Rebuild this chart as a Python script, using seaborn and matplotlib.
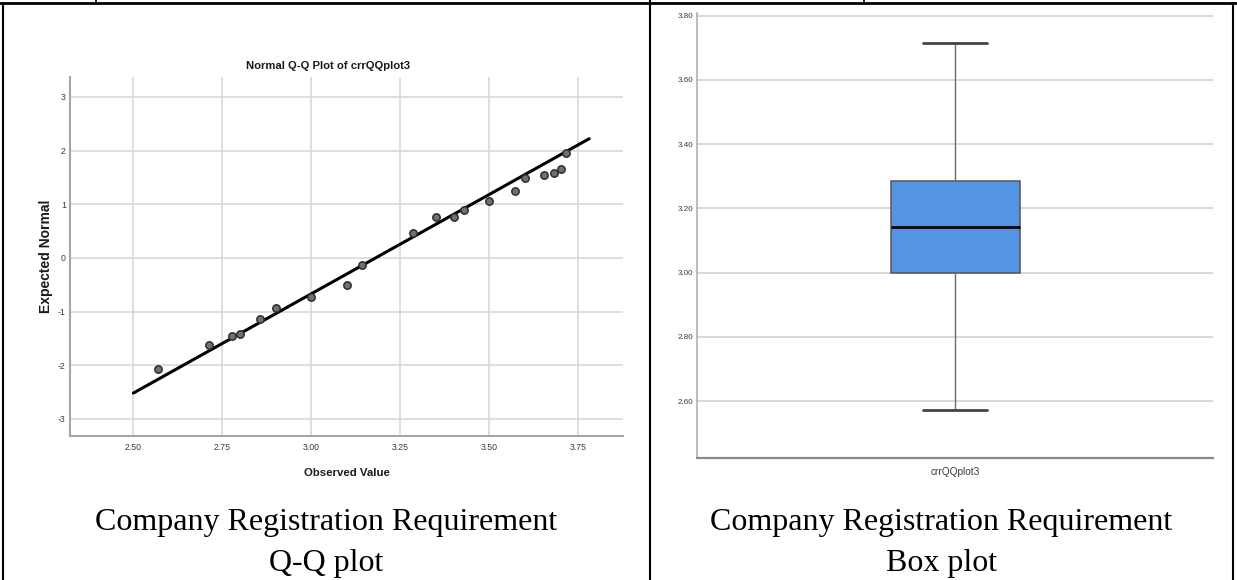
import numpy as np
import pandas as pd
import seaborn as sns
import matplotlib.pyplot as plt
from matplotlib.lines import Line2D

observed = [2.570, 2.713, 2.778, 2.800, 2.856, 2.900, 3.000, 3.101, 3.142, 3.285,
            3.350, 3.400, 3.429, 3.500, 3.572, 3.601, 3.652, 3.680, 3.700, 3.715]
expected = [-2.07, -1.62, -1.455, -1.42, -1.14, -0.93, -0.725, -0.51, -0.13, 0.46,
            0.76, 0.77, 0.90, 1.06, 1.25, 1.49, 1.54, 1.585, 1.65, 1.96]
# reference line ends
line_x = [2.50, 3.78]
line_y = [-2.52, 2.22]
qq_xticks = [2.50, 2.75, 3.00, 3.25, 3.50, 3.75]
qq_yticks = [-3, -2, -1, 0, 1, 2, 3]

# box plot five-number summary
box_label = "crrQQplot3"
box_low = 2.571
box_q1 = 3.000
box_median = 3.143
box_q3 = 3.286
box_high = 3.714
box_yticks = [2.60, 2.80, 3.00, 3.20, 3.40, 3.60, 3.80]

caption_top = "Company Registration Requirement"
caption_left = "Q-Q plot"
caption_right = "Box plot"

sns.set_style("white")
plt.rcParams["font.family"] = ["Liberation Sans", "DejaVu Sans"]
plt.rcParams["axes.unicode_minus"] = False

W, H = 1237, 580
fig = plt.figure(figsize=(W / 100, H / 100), dpi=100)


def px_rect(l, t, r, b):
    return [l / W, 1 - b / H, (r - l) / W, (b - t) / H]


def fig_line(x0, y0, x1, y1, lw):
    fig.add_artist(Line2D([x0 / W, x1 / W], [1 - y0 / H, 1 - y1 / H],
                          transform=fig.transFigure, color="black", linewidth=lw))


# ---- Q-Q plot ----
ax1 = fig.add_axes(px_rect(70, 77, 623, 436))
sns.lineplot(x=line_x, y=line_y, color="black", linewidth=2.2, ax=ax1)
sns.scatterplot(x=observed, y=expected, s=28, color="#707070", edgecolor="#2e2e2e",
                linewidth=1.1, ax=ax1, zorder=3)
ax1.set_xlim(2.322, 3.875)
ax1.set_ylim(-3.32, 3.37)
ax1.set_xticks(qq_xticks)
ax1.set_xticklabels([f"{v:.2f}" for v in qq_xticks])
ax1.set_yticks(qq_yticks)
ax1.grid(True, color="#d6d6d6", linewidth=1.1)
ax1.set_axisbelow(True)
for s in ["top", "right"]:
    ax1.spines[s].set_visible(False)
for s in ["left", "bottom"]:
    ax1.spines[s].set_color("#a6a6a6")
    ax1.spines[s].set_linewidth(1.5)
ax1.tick_params(length=0, labelsize=6.3, labelcolor="#3a3a3a")
ax1.tick_params(axis="x", pad=5)
ax1.tick_params(axis="y", pad=3)
ax1.set_xlabel("Observed Value", fontsize=8.2, fontweight="bold", color="#1a1a1a")
ax1.xaxis.set_label_coords(0.5, -0.103)
ax1.xaxis.label.set_va("center")
ax1.set_ylabel("Expected Normal", fontsize=10, fontweight="bold", color="#1a1a1a",
               ha="center", va="center")
ax1.yaxis.set_label_coords(-0.044, 0.5)
fig.text(327.5 / W, 1 - 66 / H, "Normal Q-Q Plot of crrQQplot3", ha="center", va="center",
         fontsize=8.1, fontweight="bold", color="#1a1a1a")

# ---- Box plot ----
ax2 = fig.add_axes(px_rect(697, 13, 1213, 458))
df_box = pd.DataFrame({"variable": [box_label] * 5,
                       "value": [box_low, box_q1, box_median, box_q3, box_high]})
sns.boxplot(data=df_box, x="variable", y="value", width=0.25, whis=(0, 100),
            color="#5594e3", saturation=1, linecolor="#555555", linewidth=1.1, ax=ax2,
            medianprops=dict(color="black", linewidth=2.0),
            whiskerprops=dict(color="#6a6a6a", linewidth=1.0),
            capprops=dict(color="#444444", linewidth=2.0),
            boxprops=dict(edgecolor="#555555", linewidth=1.1))
ax2.set_xlim(-0.5, 0.5)
ax2.set_ylim(2.423, 3.808)
ax2.set_yticks(box_yticks)
ax2.set_yticklabels([f"{v:.2f}" for v in box_yticks])
ax2.grid(True, axis="y", color="#d8d8d8", linewidth=1.4)
ax2.grid(False, axis="x")
ax2.set_axisbelow(True)
for s in ["top", "right"]:
    ax2.spines[s].set_visible(False)
ax2.spines["left"].set_color("#b0b0b0")
ax2.spines["left"].set_linewidth(1.2)
ax2.spines["bottom"].set_color("#8a8a8a")
ax2.spines["bottom"].set_linewidth(1.6)
ax2.tick_params(length=0, labelcolor="#3a3a3a")
ax2.tick_params(axis="y", labelsize=5.8, pad=3)
ax2.tick_params(axis="x", labelsize=7.3, pad=6.5)
ax2.set_xlabel("")
ax2.set_ylabel("")

# ---- table borders ----
fig_line(0, 3, W, 3, 2.0)
fig_line(3, 3, 3, H, 1.5)
fig_line(650, 0, 650, H, 1.5)
fig_line(1233, 3, 1233, H, 1.5)
fig_line(96, 0, 96, 3, 1.2)
fig_line(864, 0, 864, 3, 1.2)

# ---- captions ----
for cx, second in [(326.5, caption_left), (941.5, caption_right)]:
    fig.text(cx / W, 1 - 530 / H, caption_top, ha="center", va="baseline", color="black",
             fontsize=23, family=["Liberation Serif", "DejaVu Serif"])
    fig.text(cx / W, 1 - 571 / H, second, ha="center", va="baseline", color="black",
             fontsize=23, family=["Liberation Serif", "DejaVu Serif"])

fig.savefig("out.png", dpi=100)
